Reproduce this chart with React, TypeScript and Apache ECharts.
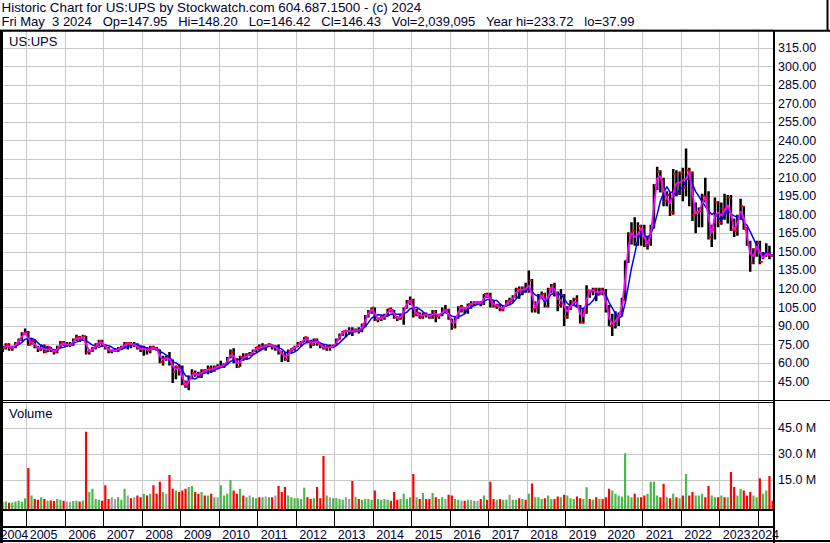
import React, { useEffect, useRef } from "react";
import * as echarts from "echarts";

// ---------------- data (monthly, May 2004 .. May 2024) ----------------
const yearLabels = ["2004","2005","2006","2007","2008","2009","2010","2011","2012","2013","2014","2015","2016","2017","2018","2019","2020","2021","2022","2023","2024"];

const firstOpen = 71;

const closes = [
  72, 75, 72, 73, 76, 79, 84, 85,
  75, 78, 73, 71, 74, 69, 73, 70, 69, 73, 77, 75,
  75, 75, 79, 81, 80, 82, 69, 70, 72, 75, 78, 75,
  72, 70, 70, 70, 72, 73, 76, 76, 75, 75, 72, 71,
  72, 70, 73, 72, 71, 61, 64, 64, 63, 53, 57, 55,
  43, 41, 49, 52, 51, 50, 54, 53, 56, 54, 57, 57,
  58, 59, 64, 69, 63, 57, 65, 64, 67, 67, 70, 73,
  72, 74, 74, 75, 73, 73, 69, 67, 63, 70, 72, 73,
  76, 77, 81, 78, 75, 79, 76, 74, 72, 73, 73, 74,
  79, 83, 86, 86, 86, 85.5, 87, 86, 91, 98, 102, 105,
  95, 96, 97, 98, 104, 103, 97, 96, 98, 105, 110, 111,
  99, 101, 97, 100, 99, 97, 102, 98, 99, 103, 103, 96,
  89, 97, 105, 105, 103, 108, 108, 109, 109, 108, 116, 115,
  109, 106, 107, 103, 106, 110, 110, 114, 120, 118, 121, 119,
  127, 104, 105, 114, 116, 106, 120, 123, 117, 107, 115, 98,
  105, 107, 112, 106, 93, 103, 119, 118, 120, 115, 120, 117,
  104, 90, 93, 95, 100, 111, 143, 164, 167, 157, 171, 168,
  155, 158, 170, 204, 215, 208, 191, 196, 182, 213, 198, 214,
  202, 216, 214, 180, 182, 183, 195, 194, 162, 168, 190, 174,
  185, 182, 194, 168, 167, 179, 187, 169, 156, 141, 152, 157,
  142, 148, 149, 147, 146.43,
];

const highs = [
  74, 76, 76, 74, 77, 80, 85, 88,
  86, 80, 79, 74, 75, 75, 74, 73, 71, 74, 78, 78,
  77, 77, 80, 83, 82, 83, 82, 71, 73, 76, 79, 79,
  75, 73, 71, 72, 73, 74, 77, 77, 77, 77, 76, 74,
  74, 73, 74, 74, 73, 71, 66, 66, 69, 63, 58, 59,
  58, 46, 50, 55, 54, 53, 55, 55, 58, 58, 58, 59,
  62, 60, 65, 71, 72, 64, 66, 68, 68, 69, 71, 73,
  75, 76, 75, 76, 75, 74, 75, 70, 69, 71, 72, 74,
  77, 78, 81, 81, 79, 80, 80, 76, 75, 74, 75, 75,
  80, 84, 86, 87, 89, 89, 88, 89, 92, 99, 103, 105,
  105, 97, 98, 100, 104, 105, 103, 98, 100, 105, 111, 114,
  112, 104, 101, 101, 101, 100, 103, 103, 100, 105, 107, 104,
  96, 97, 106, 107, 105, 108, 110, 110, 110, 110, 116, 117,
  117, 111, 108, 108, 107, 111, 113, 115, 121, 122, 122, 125,
  135, 128, 110, 116, 118, 117, 121, 124, 125, 118, 120, 116,
  106, 111, 113, 115, 107, 104, 123, 119, 121, 121, 121, 121,
  120, 107, 100, 102, 101, 113, 143, 166, 174, 178, 174, 172,
  172, 163, 172, 205, 219, 216, 210, 199, 198, 217, 216, 215,
  218, 233.72, 218, 215, 190, 186, 197, 210, 199, 172, 194, 191,
  190, 197, 196, 196, 177, 180, 193, 187, 170, 159, 153, 159,
  159, 150, 157, 155, 148.2,
];

const lows = [
  69, 71, 70, 70, 72, 75, 78, 83,
  74, 75, 72, 69, 70, 68, 69, 69, 67, 68, 72, 74,
  73, 73, 74, 78, 77, 78, 67, 67, 69, 71, 74, 73,
  71, 68, 68, 69, 69, 71, 72, 71, 72, 73, 71, 69,
  66, 67, 68, 71, 70, 60, 58, 62, 58, 44, 47, 50,
  42, 40, 37.99, 47, 49, 48, 48, 52, 51, 52, 53, 55,
  56, 56, 59, 64, 60, 56, 57, 62, 63, 66, 67, 69,
  70, 72, 70, 73, 71, 70, 67, 61, 62, 61, 68, 70,
  73, 74, 77, 76, 72, 74, 74, 72, 71, 70, 70, 72,
  74, 79, 82, 81, 83, 82, 85, 84, 85, 89, 97, 100,
  94, 93, 94, 95, 98, 101, 96, 94, 95, 91, 104, 107,
  97, 98, 96, 96, 97, 96, 96, 93, 96, 98, 101, 95,
  87, 88, 96, 101, 100, 100, 104, 106, 107, 106, 107, 113,
  105, 105, 104, 102, 102, 106, 108, 109, 113, 112, 115, 117,
  117, 101, 101, 100, 112, 105, 105, 117, 114, 102, 105, 90,
  96, 103, 106, 105, 92, 92, 100, 113, 115, 110, 115, 115,
  101, 90, 82, 88, 90, 98, 110, 141, 156, 155, 155, 155,
  154, 152, 155, 169, 200, 198, 187, 187, 179, 180, 195, 196,
  191, 195, 187, 175, 165, 170, 170, 190, 160, 154, 160, 170,
  172, 176, 173, 167, 162, 163, 176, 168, 155, 134, 140, 146,
  140, 144, 146, 144, 146.42,
];

// volume in millions of shares
const volumeM = [
  2.2, 2.5, 1.8, 2.0, 2.6, 3.0, 2.4, 4.5,
  22, 6, 4, 3.5, 5, 4, 3, 3.2, 2.8, 4, 3.5, 3,
  2.5, 2.2, 2.8, 3, 2.6, 3.2, 43, 8, 10, 4, 3.5, 3,
  12, 4, 5, 4, 5, 3.5, 10, 6, 4.5, 5, 6, 5,
  7, 6, 7, 12, 7, 14, 8, 7, 18, 10, 9, 8,
  9, 10, 11, 11.5, 8, 7, 8, 6, 6, 7, 5, 5,
  12, 6, 7, 15, 9, 7, 10, 6, 5, 6, 5, 4.5,
  5, 5, 5.5, 5, 5, 6, 11.5, 8, 11, 6, 5, 4.5,
  4.5, 4, 10.5, 5, 4, 4.5, 11, 4.5, 29, 6, 5, 4.5,
  4.5, 4, 3.5, 5, 4, 14.5, 5, 4, 3.5, 4, 4, 3.5,
  9, 4, 3.5, 4, 3.5, 3, 8, 3.5, 4, 7, 4, 5,
  18.5, 5, 4, 7.5, 4, 4, 7.5, 5, 4, 5, 4, 6.5,
  6, 4, 3.5, 3.2, 3, 3.5, 3.5, 3, 3, 4, 6, 3.5,
  14, 4, 3.5, 4, 3.5, 3.5, 6.5, 3.5, 3.5, 4.5, 4, 3.5,
  7, 13, 5, 5, 4, 4.5, 6, 4, 4, 5.5, 5, 6.5,
  6, 4.5, 4, 5.5, 4.5, 4, 10.8, 4, 3.5, 5, 4, 4,
  5, 10, 9, 7, 6, 5.5, 30.5, 6, 5, 7, 5, 5,
  6, 7, 14, 14, 6, 5, 12.8, 5, 4.5, 7, 5, 4.5,
  6, 18.5, 6, 8, 6, 6, 7, 5, 11.5, 6, 5, 5,
  6, 5, 5, 19.7, 11, 6, 10, 9, 6, 8, 6, 5,
  16, 7, 9, 17.3, 3,
];

const header1 = "Historic Chart for US:UPS by Stockwatch.com 604.687.1500 - (c) 2024";
const header2 = ["Fri May", "", "3 2024", "", "", "Op=147.95", "", "", "Hi=148.20", "", "", "Lo=146.42", "", "", "Cl=146.43", "", "", "Vol=2,039,095", "", "", "Year hi=233.72", "", "", "lo=37.99"];
const symbolLabel = "US:UPS";
const volumeLabel = "Volume";

const priceMin = 30, priceMax = 330, priceStep = 15;
const volMax = 60, volStep = 15;
const shortMA = 2, longMA = 5;

// ---------------- layout ----------------
const OX = 12;                // chart div is shifted 12px left of the page
const X_MAX = 244.6;          // months since Jan 2004 at right plot edge
const PAGE_LEFT = -11.8;      // page x of t = 0
const GRID_W = 784.8;
const FONT = "'Liberation Sans', Arial, sans-serif";
const TXT = "#000033";
const GRIDC = "#c8c8c8";

const tOf = (i: number) => i + 4.5;
const tToX = (t: number) => PAGE_LEFT + (t * GRID_W) / X_MAX; // page coords

function sma(arr: number[], k: number) {
  return arr.map((_, i) => {
    const s = Math.max(0, i - k + 1);
    let sum = 0;
    for (let j = s; j <= i; j++) sum += arr[j];
    return +(sum / (i - s + 1)).toFixed(2);
  });
}

function buildOption(): any {
  const ohlc = closes.map((c, i) => [tOf(i), i === 0 ? firstOpen : closes[i - 1], c, lows[i], highs[i]]);
  const maS = sma(closes, shortMA).map((v, i) => [tOf(i), v]);
  const maL = sma(closes, longMA).map((v, i) => [tOf(i), v]);
  const vol = volumeM.map((v, i) => {
    const prev = i === 0 ? firstOpen : closes[i - 1];
    const dir = closes[i] > prev ? 1 : closes[i] < prev ? -1 : 0;
    return [tOf(i), v, dir];
  });

  const gLeft = PAGE_LEFT + OX;

  const xBase = (gridIndex: number, split: string | null) => ({
    type: "value", gridIndex, min: 0, max: X_MAX, interval: 12,
    axisLine: { show: false }, axisTick: { show: false }, axisLabel: { show: false },
    splitLine: split ? { show: true, lineStyle: { color: split, width: 1 } } : { show: false },
  });

  const txt = (text: string, x: number, y: number, size: number) => ({
    type: "text", x: x + OX, y, z: 200, silent: true,
    style: { text, fill: TXT, fontSize: size, fontFamily: FONT, align: "left", verticalAlign: "middle" },
  });
  const ln = (x1: number, y1: number, x2: number, y2: number, w: number) => ({
    type: "line", z: 150, silent: true,
    shape: { x1: x1 + OX, y1, x2: x2 + OX, y2 }, style: { stroke: "#000", lineWidth: w },
  });

  const elements: any[] = [];
  elements.push(txt(header1, 1.5, 7.8, 13.4));
  elements.push(txt(header2.join("\u00a0"), 1.5, 21.8, 13));
  elements.push(txt(symbolLabel, 9, 41.5, 13));
  elements.push(txt(volumeLabel, 9, 413, 13));
  yearLabels.forEach((y, k) => {
    const x = k === 0 ? 0.5 : k === yearLabels.length - 1 ? tToX(12 * k) - 7 : tToX(12 * k) + 3;
    elements.push(txt(y, x, 535, 12.5));
  });
  // frame
  elements.push(ln(0, 30.8, 830, 30.8, 2));
  elements.push(ln(827.5, 0, 827.5, 31, 2));
  elements.push(ln(1.5, 30, 1.5, 543, 3));
  elements.push(ln(774, 30, 774, 543, 2));
  elements.push(ln(0, 400.5, 830, 400.5, 1));
  elements.push(ln(0, 402.5, 774, 402.5, 1));
  elements.push(ln(0, 510, 774, 510, 2));
  elements.push(ln(0, 527, 774, 527, 2));
  elements.push(ln(0, 541, 830, 541, 2));
  // white mask left of the page edge
  elements.push({ type: "rect", z: 140, silent: true, shape: { x: 0, y: 0, width: OX, height: 543 }, style: { fill: "#ffffff" } });

  const axLabel = (fmt: (v: number) => string) => ({
    show: true, margin: 5, color: TXT, fontSize: 12.5, fontFamily: FONT,
    showMinLabel: false, showMaxLabel: false, formatter: fmt, padding: [2, 0, 0, 0],
  });

  return {
    animation: false,
    backgroundColor: "#ffffff",
    grid: [
      { left: gLeft, width: GRID_W, top: 29.46, height: 370.74 },
      { left: gLeft, width: GRID_W, top: 402.5, height: 106.5 },
      { left: gLeft, width: GRID_W, top: 510, height: 17 },
      { left: gLeft, width: GRID_W, top: 402.5, height: 103.4 },
    ],
    xAxis: [xBase(0, GRIDC), xBase(1, GRIDC), xBase(2, "#000000"), xBase(3, null)],
    yAxis: [
      {
        type: "value", gridIndex: 0, position: "right", min: priceMin, max: priceMax, interval: priceStep,
        axisLine: { show: false }, axisTick: { show: false },
        splitLine: { show: true, lineStyle: { color: GRIDC, width: 1 } },
        axisLabel: axLabel((v: number) => v.toFixed(2)),
      },
      { type: "value", gridIndex: 1, min: -(volMax * 3.1) / 103.4, max: volMax, show: false, splitLine: { show: false } },
      { type: "value", gridIndex: 2, min: 0, max: 1, show: false, splitLine: { show: false } },
      {
        type: "value", gridIndex: 3, position: "right", min: 0, max: volMax, interval: volStep,
        axisLine: { show: false }, axisTick: { show: false },
        splitLine: { show: true, lineStyle: { color: GRIDC, width: 1 } },
        axisLabel: axLabel((v: number) => v.toFixed(1) + " M"),
      },
    ],
    series: [
      {
        type: "custom", name: "Price", xAxisIndex: 0, yAxisIndex: 0,
        dimensions: ["t", "open", "close", "low", "high"],
        encode: { x: 0, y: [1, 2, 3, 4] },
        data: ohlc, clip: true, z: 3,
        renderItem: (params: any, api: any) => {
          const t = api.value(0);
          const pO = api.coord([t, api.value(1)]);
          const pC = api.coord([t, api.value(2)]);
          const pL = api.coord([t, api.value(3)]);
          const pH = api.coord([t, api.value(4)]);
          const x = pH[0];
          return {
            type: "group",
            children: [
              { type: "line", shape: { x1: x, y1: pH[1], x2: x, y2: pL[1] }, style: { stroke: "#000000", lineWidth: 2.5 } },
              { type: "line", shape: { x1: x - 2.5, y1: pO[1], x2: x, y2: pO[1] }, style: { stroke: "#ff0000", lineWidth: 1.6 } },
              { type: "line", shape: { x1: x, y1: pC[1], x2: x + 2.5, y2: pC[1] }, style: { stroke: "#ff0000", lineWidth: 1.6 } },
            ],
          };
        },
      },
      {
        type: "line", name: "MA long", xAxisIndex: 0, yAxisIndex: 0, data: maL, symbol: "none", z: 4,
        lineStyle: { color: "#0000ff", width: 1.5 },
      },
      {
        type: "line", name: "MA short", xAxisIndex: 0, yAxisIndex: 0, data: maS, symbol: "none", z: 5,
        lineStyle: { color: "#ff00ff", width: 1.8 },
      },
      {
        type: "custom", name: "Volume", xAxisIndex: 1, yAxisIndex: 1,
        dimensions: ["t", "vol", "dir"], encode: { x: 0, y: 1 },
        data: vol, clip: true, z: 3,
        renderItem: (params: any, api: any) => {
          const t = api.value(0);
          const v = api.value(1);
          const d = api.value(2);
          const p = api.coord([t, v]);
          const cs = params.coordSys;
          const bottom = cs.y + cs.height;
          const w = 2.2;
          return {
            type: "rect",
            shape: { x: p[0] - w / 2, y: p[1], width: w, height: bottom - p[1] },
            style: { fill: d > 0 ? "#4cb84c" : d < 0 ? "#ff0000" : "#a0a0a0" },
          };
        },
      },
    ],
    graphic: { elements },
  };
}

export default function App() {
  const ref = useRef<HTMLDivElement>(null);
  useEffect(() => {
    if (!ref.current) return;
    const chart = echarts.init(ref.current, null, { renderer: "svg" });
    chart.setOption(buildOption());
    return () => chart.dispose();
  }, []);
  return (
    <div
      ref={ref}
      style={{ position: "absolute", left: -OX, top: 0, width: 830 + OX, height: 543, background: "#ffffff" }}
    />
  );
}
